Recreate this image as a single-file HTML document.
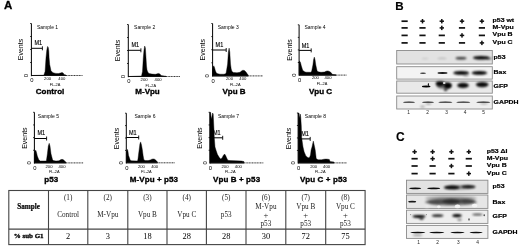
<!DOCTYPE html>
<html><head><meta charset="utf-8"><style>
html,body{margin:0;padding:0;background:#fff;width:520px;height:248px;overflow:hidden}
svg{display:block;filter:blur(0.25px)}

</style></head><body>
<svg width="520" height="248" viewBox="0 0 520 248">
<defs><filter id="b6" x="-50%" y="-100%" width="200%" height="300%"><feGaussianBlur stdDeviation="0.6"/></filter><filter id="b8" x="-50%" y="-100%" width="200%" height="300%"><feGaussianBlur stdDeviation="0.8"/></filter><filter id="b10" x="-50%" y="-100%" width="200%" height="300%"><feGaussianBlur stdDeviation="1.0"/></filter><filter id="b12" x="-50%" y="-100%" width="200%" height="300%"><feGaussianBlur stdDeviation="1.2"/></filter></defs>
<g>
<path d="M31.4,75.5 L43.8,75.2 L44.4,73.5 L45.1,71.4 L46,57.7 L46.8,50 L47.6,46.4 L48.3,47.5 L48.8,51 L49.1,57.7 L49.7,64.6 L51,70.7 L53,72.8 L56,73.4 L58.6,73.5 L60.5,73 L62,72.5 L63.2,73 L64,74.6 L66,75.1 L66,75.5 Z" fill="#000" stroke="#000" stroke-width="0.4"/>
<line x1="31.4" y1="75.5" x2="66" y2="75.5" stroke="#111" stroke-width="1.1"/>
<line x1="66" y1="75.5" x2="82.5" y2="75.5" stroke="#222" stroke-width="0.9" stroke-dasharray="1.1 0.5"/>
<line x1="31.4" y1="23.5" x2="31.4" y2="76.2" stroke="#000" stroke-width="1"/>
<line x1="30.099999999999998" y1="23.5" x2="31.4" y2="23.5" stroke="#000" stroke-width="0.8"/>
<line x1="30.099999999999998" y1="36.5" x2="31.4" y2="36.5" stroke="#000" stroke-width="0.8"/>
<line x1="30.099999999999998" y1="49.5" x2="31.4" y2="49.5" stroke="#000" stroke-width="0.8"/>
<line x1="30.099999999999998" y1="62.5" x2="31.4" y2="62.5" stroke="#000" stroke-width="0.8"/>
<line x1="31.4" y1="48.3" x2="42.4" y2="48.3" stroke="#000" stroke-width="1"/>
<line x1="42.4" y1="46.3" x2="42.4" y2="50.3" stroke="#000" stroke-width="0.9"/>
<text transform="translate(34.5 45.3) scale(0.86 1)" font-size="6.4" font-family='"Liberation Sans", sans-serif' stroke="#000" stroke-width="0.15">M1</text>
<text x="37" y="28.7" font-size="5" font-family='"Liberation Sans", sans-serif'>Sample 1</text>
<text x="23.2" y="49.5" font-size="7" font-family='"Liberation Sans", sans-serif' text-anchor="middle" transform="rotate(-90 23.2 49.5)">Events</text>
<text x="28.299999999999997" y="75.5" font-size="6" font-family='"Liberation Sans", sans-serif' text-anchor="middle" transform="rotate(-90 28.299999999999997 75.5)">0</text>
<text x="31.9" y="82.4" font-size="5.8" font-family='"Liberation Sans", sans-serif' text-anchor="middle">0</text>
<text x="47.599999999999994" y="79.8" font-size="4.2" font-family='"Liberation Sans", sans-serif' text-anchor="middle">200</text>
<text x="61.8" y="79.8" font-size="4.2" font-family='"Liberation Sans", sans-serif' text-anchor="middle">400</text>
<text x="55.0" y="85.6" font-size="3.9" font-family='"Liberation Sans", sans-serif' text-anchor="middle">FL-2A</text>
<text x="35.8" y="93.9" font-size="8" font-weight="bold" font-family='"Liberation Sans", sans-serif' stroke="#000" stroke-width="0.35" letter-spacing="0">Control</text>
<path d="M128.3,76.5 L141.5,76 L142.5,71.5 L143.3,57.7 L144,50 L144.7,46 L145.4,48 L146,57.7 L146.5,66 L147,70 L148,72.5 L149,73.4 L152,74.1 L155.3,74.3 L156.6,73.9 L158.3,73.4 L160,74 L161,75.6 L166,76.2 L166,76.5 Z" fill="#000" stroke="#000" stroke-width="0.4"/>
<line x1="128.3" y1="76.5" x2="166" y2="76.5" stroke="#111" stroke-width="1.1"/>
<line x1="166" y1="76.5" x2="180" y2="76.5" stroke="#222" stroke-width="0.9" stroke-dasharray="1.1 0.5"/>
<line x1="128.3" y1="24.5" x2="128.3" y2="77.2" stroke="#000" stroke-width="1"/>
<line x1="127.00000000000001" y1="24.5" x2="128.3" y2="24.5" stroke="#000" stroke-width="0.8"/>
<line x1="127.00000000000001" y1="37.5" x2="128.3" y2="37.5" stroke="#000" stroke-width="0.8"/>
<line x1="127.00000000000001" y1="50.5" x2="128.3" y2="50.5" stroke="#000" stroke-width="0.8"/>
<line x1="127.00000000000001" y1="63.5" x2="128.3" y2="63.5" stroke="#000" stroke-width="0.8"/>
<line x1="128.3" y1="50.3" x2="140.9" y2="50.3" stroke="#000" stroke-width="1"/>
<line x1="140.9" y1="48.3" x2="140.9" y2="52.3" stroke="#000" stroke-width="0.9"/>
<text transform="translate(131.4 46.8) scale(0.86 1)" font-size="6.4" font-family='"Liberation Sans", sans-serif' stroke="#000" stroke-width="0.15">M1</text>
<text x="134.1" y="29.0" font-size="5" font-family='"Liberation Sans", sans-serif'>Sample 2</text>
<text x="120.10000000000001" y="50.5" font-size="7" font-family='"Liberation Sans", sans-serif' text-anchor="middle" transform="rotate(-90 120.10000000000001 50.5)">Events</text>
<text x="125.20000000000002" y="76.5" font-size="6" font-family='"Liberation Sans", sans-serif' text-anchor="middle" transform="rotate(-90 125.20000000000002 76.5)">0</text>
<text x="128.8" y="83.4" font-size="5.8" font-family='"Liberation Sans", sans-serif' text-anchor="middle">0</text>
<text x="144.10000000000002" y="80.8" font-size="4.2" font-family='"Liberation Sans", sans-serif' text-anchor="middle">200</text>
<text x="158.10000000000002" y="80.8" font-size="4.2" font-family='"Liberation Sans", sans-serif' text-anchor="middle">400</text>
<text x="150.8" y="86.6" font-size="3.9" font-family='"Liberation Sans", sans-serif' text-anchor="middle">FL-2A</text>
<text x="135.3" y="94.4" font-size="8" font-weight="bold" font-family='"Liberation Sans", sans-serif' stroke="#000" stroke-width="0.35" letter-spacing="0">M-Vpu</text>
<path d="M212.6,75.9 L212.6,70 L213.2,66.5 L213.8,65.8 L214.5,67.5 L215.3,70.5 L216,72.3 L217,73.6 L220,74.2 L224,74.2 L226,73.5 L226.8,69 L227.6,64 L228.4,52 L229.1,48.1 L229.8,52 L230.5,64 L231.2,69 L232,71.6 L233.4,72.4 L237,72.8 L240,72.3 L241.5,71 L242.9,70.2 L244.5,70.6 L246,72 L247.2,73.8 L248.2,75 L248.2,75.9 Z" fill="#000" stroke="#000" stroke-width="0.4"/>
<line x1="212.6" y1="75.9" x2="248.2" y2="75.9" stroke="#111" stroke-width="1.1"/>
<line x1="248.2" y1="75.9" x2="263" y2="75.9" stroke="#222" stroke-width="0.9" stroke-dasharray="1.1 0.5"/>
<line x1="212.6" y1="23.5" x2="212.6" y2="76.60000000000001" stroke="#000" stroke-width="1"/>
<line x1="211.29999999999998" y1="23.5" x2="212.6" y2="23.5" stroke="#000" stroke-width="0.8"/>
<line x1="211.29999999999998" y1="36.6" x2="212.6" y2="36.6" stroke="#000" stroke-width="0.8"/>
<line x1="211.29999999999998" y1="49.7" x2="212.6" y2="49.7" stroke="#000" stroke-width="0.8"/>
<line x1="211.29999999999998" y1="62.800000000000004" x2="212.6" y2="62.800000000000004" stroke="#000" stroke-width="0.8"/>
<line x1="212.6" y1="50.0" x2="226.2" y2="50.0" stroke="#000" stroke-width="1"/>
<line x1="226.2" y1="48.0" x2="226.2" y2="52.0" stroke="#000" stroke-width="0.9"/>
<text transform="translate(215.6 47.3) scale(0.86 1)" font-size="6.4" font-family='"Liberation Sans", sans-serif' stroke="#000" stroke-width="0.15">M1</text>
<text x="217.7" y="29.1" font-size="5" font-family='"Liberation Sans", sans-serif'>Sample 3</text>
<text x="205.1" y="49.7" font-size="7" font-family='"Liberation Sans", sans-serif' text-anchor="middle" transform="rotate(-90 205.1 49.7)">Events</text>
<text x="209.5" y="75.9" font-size="6" font-family='"Liberation Sans", sans-serif' text-anchor="middle" transform="rotate(-90 209.5 75.9)">0</text>
<text x="213.1" y="82.80000000000001" font-size="5.8" font-family='"Liberation Sans", sans-serif' text-anchor="middle">0</text>
<text x="229.5" y="80.2" font-size="4.2" font-family='"Liberation Sans", sans-serif' text-anchor="middle">200</text>
<text x="242.79999999999998" y="80.2" font-size="4.2" font-family='"Liberation Sans", sans-serif' text-anchor="middle">400</text>
<text x="235.29999999999998" y="86.0" font-size="3.9" font-family='"Liberation Sans", sans-serif' text-anchor="middle">FL-2A</text>
<text x="222.5" y="93.7" font-size="8" font-weight="bold" font-family='"Liberation Sans", sans-serif' stroke="#000" stroke-width="0.35" letter-spacing="0">Vpu B</text>
<path d="M299.1,75.1 L299.1,61.4 L299.8,61.2 L300.5,62.5 L301.3,65.8 L302.7,70.2 L304.2,71.6 L306,72.2 L311,72.3 L311.7,71 L312.9,65 L313.6,59.5 L314.3,57.1 L315,59.5 L315.8,65 L317,70.5 L318,71.8 L321,72.3 L324.5,72 L326,71.2 L327.4,70.9 L329,71.2 L331,72.5 L332.5,74.5 L336,75 L336,75.1 Z" fill="#000" stroke="#000" stroke-width="0.4"/>
<line x1="299.1" y1="75.1" x2="336" y2="75.1" stroke="#111" stroke-width="1.1"/>
<line x1="336" y1="75.1" x2="346.5" y2="75.1" stroke="#222" stroke-width="0.9" stroke-dasharray="1.1 0.5"/>
<line x1="299.1" y1="24.8" x2="299.1" y2="75.8" stroke="#000" stroke-width="1"/>
<line x1="297.8" y1="24.8" x2="299.1" y2="24.8" stroke="#000" stroke-width="0.8"/>
<line x1="297.8" y1="37.375" x2="299.1" y2="37.375" stroke="#000" stroke-width="0.8"/>
<line x1="297.8" y1="49.95" x2="299.1" y2="49.95" stroke="#000" stroke-width="0.8"/>
<line x1="297.8" y1="62.52499999999999" x2="299.1" y2="62.52499999999999" stroke="#000" stroke-width="0.8"/>
<line x1="299.1" y1="50.4" x2="311.2" y2="50.4" stroke="#000" stroke-width="1"/>
<line x1="311.2" y1="48.4" x2="311.2" y2="52.4" stroke="#000" stroke-width="0.9"/>
<text transform="translate(301.80000000000007 47.5) scale(0.86 1)" font-size="6.4" font-family='"Liberation Sans", sans-serif' stroke="#000" stroke-width="0.15">M1</text>
<text x="304.5" y="28.6" font-size="5" font-family='"Liberation Sans", sans-serif'>Sample 4</text>
<text x="291.6" y="49.949999999999996" font-size="7" font-family='"Liberation Sans", sans-serif' text-anchor="middle" transform="rotate(-90 291.6 49.949999999999996)">Events</text>
<text x="296.0" y="75.1" font-size="6" font-family='"Liberation Sans", sans-serif' text-anchor="middle" transform="rotate(-90 296.0 75.1)">0</text>
<text x="299.6" y="82.0" font-size="5.8" font-family='"Liberation Sans", sans-serif' text-anchor="middle">0</text>
<text x="315.40000000000003" y="79.39999999999999" font-size="4.2" font-family='"Liberation Sans", sans-serif' text-anchor="middle">200</text>
<text x="328.0" y="79.39999999999999" font-size="4.2" font-family='"Liberation Sans", sans-serif' text-anchor="middle">400</text>
<text x="322.0" y="85.19999999999999" font-size="3.9" font-family='"Liberation Sans", sans-serif' text-anchor="middle">FL-2A</text>
<text x="309" y="93.7" font-size="8" font-weight="bold" font-family='"Liberation Sans", sans-serif' stroke="#000" stroke-width="0.35" letter-spacing="0">Vpu C</text>
<path d="M34.4,162.9 L34.4,153.8 L35,151 L35.8,150.2 L36.5,152.5 L37.3,156 L38.7,159.6 L40.2,161 L46.3,161 L46.8,158 L47.4,153.8 L48.3,146 L49.2,143.3 L50,146 L51,153.8 L52.5,159.6 L53.3,160.6 L56,161 L59,160.8 L60.5,159.8 L62,159.3 L63.5,159.8 L64.9,161.2 L66,162.2 L66,162.9 Z" fill="#000" stroke="#000" stroke-width="0.4"/>
<line x1="34.4" y1="162.9" x2="66" y2="162.9" stroke="#111" stroke-width="1.1"/>
<line x1="66" y1="162.9" x2="83.6" y2="162.9" stroke="#222" stroke-width="0.9" stroke-dasharray="1.1 0.5"/>
<line x1="34.4" y1="112.3" x2="34.4" y2="163.6" stroke="#000" stroke-width="1"/>
<line x1="33.1" y1="112.3" x2="34.4" y2="112.3" stroke="#000" stroke-width="0.8"/>
<line x1="33.1" y1="124.95" x2="34.4" y2="124.95" stroke="#000" stroke-width="0.8"/>
<line x1="33.1" y1="137.6" x2="34.4" y2="137.6" stroke="#000" stroke-width="0.8"/>
<line x1="33.1" y1="150.25" x2="34.4" y2="150.25" stroke="#000" stroke-width="0.8"/>
<line x1="34.4" y1="138.5" x2="46.6" y2="138.5" stroke="#000" stroke-width="1"/>
<line x1="46.6" y1="136.5" x2="46.6" y2="140.5" stroke="#000" stroke-width="0.9"/>
<text transform="translate(37.5 135.3) scale(0.86 1)" font-size="6.4" font-family='"Liberation Sans", sans-serif' stroke="#000" stroke-width="0.15">M1</text>
<text x="37.8" y="118.1" font-size="5" font-family='"Liberation Sans", sans-serif'>Sample 5</text>
<text x="27.0" y="138.1" font-size="7" font-family='"Liberation Sans", sans-serif' text-anchor="middle" transform="rotate(-90 27.0 138.1)">Events</text>
<text x="31.299999999999997" y="162.9" font-size="6" font-family='"Liberation Sans", sans-serif' text-anchor="middle" transform="rotate(-90 31.299999999999997 162.9)">0</text>
<text x="34.9" y="169.8" font-size="5.8" font-family='"Liberation Sans", sans-serif' text-anchor="middle">0</text>
<text x="49.0" y="167.9" font-size="4.2" font-family='"Liberation Sans", sans-serif' text-anchor="middle">200</text>
<text x="62.0" y="167.9" font-size="4.2" font-family='"Liberation Sans", sans-serif' text-anchor="middle">400</text>
<text x="54.2" y="173.0" font-size="3.9" font-family='"Liberation Sans", sans-serif' text-anchor="middle">FL-2A</text>
<text x="44.2" y="181.70000000000002" font-size="8" font-weight="bold" font-family='"Liberation Sans", sans-serif' stroke="#000" stroke-width="0.35" letter-spacing="0.1">p53</text>
<path d="M126.3,162.8 L126.4,152 L127,150 L127.5,149.4 L128,151.5 L128.5,155.3 L130,159.6 L131,160.8 L137.5,161 L138,159 L138.6,154 L139.2,149.4 L139.9,144 L140.6,141.9 L141.4,144.5 L142.3,149.4 L143.1,155.5 L143.8,159.6 L145,160.5 L148,160.6 L150.3,160 L151.8,159.2 L153.2,158.9 L154.7,159.3 L156.2,160.6 L157.5,162 L157.5,162.8 Z" fill="#000" stroke="#000" stroke-width="0.4"/>
<line x1="126.3" y1="162.8" x2="157.5" y2="162.8" stroke="#111" stroke-width="1.1"/>
<line x1="157.5" y1="162.8" x2="175" y2="162.8" stroke="#222" stroke-width="0.9" stroke-dasharray="1.1 0.5"/>
<line x1="126.3" y1="113.2" x2="126.3" y2="163.5" stroke="#000" stroke-width="1"/>
<line x1="125.0" y1="113.2" x2="126.3" y2="113.2" stroke="#000" stroke-width="0.8"/>
<line x1="125.0" y1="125.60000000000001" x2="126.3" y2="125.60000000000001" stroke="#000" stroke-width="0.8"/>
<line x1="125.0" y1="138.0" x2="126.3" y2="138.0" stroke="#000" stroke-width="0.8"/>
<line x1="125.0" y1="150.4" x2="126.3" y2="150.4" stroke="#000" stroke-width="0.8"/>
<line x1="126.3" y1="137.5" x2="138.7" y2="137.5" stroke="#000" stroke-width="1"/>
<line x1="138.7" y1="135.5" x2="138.7" y2="139.5" stroke="#000" stroke-width="0.9"/>
<text transform="translate(128.9 134.8) scale(0.86 1)" font-size="6.4" font-family='"Liberation Sans", sans-serif' stroke="#000" stroke-width="0.15">M1</text>
<text x="134.4" y="118.39999999999999" font-size="5" font-family='"Liberation Sans", sans-serif'>Sample 6</text>
<text x="118.7" y="138.5" font-size="7" font-family='"Liberation Sans", sans-serif' text-anchor="middle" transform="rotate(-90 118.7 138.5)">Events</text>
<text x="123.2" y="162.8" font-size="6" font-family='"Liberation Sans", sans-serif' text-anchor="middle" transform="rotate(-90 123.2 162.8)">0</text>
<text x="126.8" y="169.70000000000002" font-size="5.8" font-family='"Liberation Sans", sans-serif' text-anchor="middle">0</text>
<text x="141.4" y="167.8" font-size="4.2" font-family='"Liberation Sans", sans-serif' text-anchor="middle">200</text>
<text x="154.7" y="167.8" font-size="4.2" font-family='"Liberation Sans", sans-serif' text-anchor="middle">400</text>
<text x="146.4" y="172.9" font-size="3.9" font-family='"Liberation Sans", sans-serif' text-anchor="middle">FL-2A</text>
<text x="129.7" y="181.6" font-size="8" font-weight="bold" font-family='"Liberation Sans", sans-serif' stroke="#000" stroke-width="0.35" letter-spacing="0.1">M-Vpu + p53</text>
<path d="M209.9,162.9 L209.9,112.4 L210.6,112.4 L211.2,119 L212,116 L212.6,113 L213.2,114 L213.6,122 L214,130 L214.3,137.9 L215,146.9 L216.2,150.8 L217.5,154.6 L219.5,157.8 L220.8,159.1 L222,158 L223.3,155.5 L224.6,154 L225.6,155.5 L226.6,157.8 L227.8,160.2 L230,160.6 L236,160.8 L241.4,161 L244,161.6 L244,162.9 Z" fill="#000" stroke="#000" stroke-width="0.4"/>
<line x1="209.9" y1="162.9" x2="244" y2="162.9" stroke="#111" stroke-width="1.1"/>
<line x1="244" y1="162.9" x2="263.5" y2="162.9" stroke="#222" stroke-width="0.9" stroke-dasharray="1.1 0.5"/>
<line x1="209.9" y1="112.3" x2="209.9" y2="163.6" stroke="#000" stroke-width="1"/>
<line x1="208.6" y1="112.3" x2="209.9" y2="112.3" stroke="#000" stroke-width="0.8"/>
<line x1="208.6" y1="124.95" x2="209.9" y2="124.95" stroke="#000" stroke-width="0.8"/>
<line x1="208.6" y1="137.6" x2="209.9" y2="137.6" stroke="#000" stroke-width="0.8"/>
<line x1="208.6" y1="150.25" x2="209.9" y2="150.25" stroke="#000" stroke-width="0.8"/>
<line x1="209.9" y1="137.8" x2="222.7" y2="137.8" stroke="#000" stroke-width="1"/>
<line x1="222.7" y1="135.8" x2="222.7" y2="139.8" stroke="#000" stroke-width="0.9"/>
<text transform="translate(213.0 135.10000000000002) scale(0.86 1)" font-size="6.4" font-family='"Liberation Sans", sans-serif' stroke="#000" stroke-width="0.15">M1</text>
<text x="218" y="118.2" font-size="5" font-family='"Liberation Sans", sans-serif'>Sample 7</text>
<text x="202.3" y="138.1" font-size="7" font-family='"Liberation Sans", sans-serif' text-anchor="middle" transform="rotate(-90 202.3 138.1)">Events</text>
<text x="206.8" y="162.9" font-size="6" font-family='"Liberation Sans", sans-serif' text-anchor="middle" transform="rotate(-90 206.8 162.9)">0</text>
<text x="210.4" y="169.8" font-size="5.8" font-family='"Liberation Sans", sans-serif' text-anchor="middle">0</text>
<text x="225.0" y="167.9" font-size="4.2" font-family='"Liberation Sans", sans-serif' text-anchor="middle">200</text>
<text x="238.3" y="167.9" font-size="4.2" font-family='"Liberation Sans", sans-serif' text-anchor="middle">400</text>
<text x="230.20000000000002" y="173.0" font-size="3.9" font-family='"Liberation Sans", sans-serif' text-anchor="middle">FL-2A</text>
<text x="213.1" y="181.6" font-size="8" font-weight="bold" font-family='"Liberation Sans", sans-serif' stroke="#000" stroke-width="0.35" letter-spacing="0.1">Vpu B + p53</text>
<path d="M298.2,162.9 L298.2,113 L299,113 L299.6,118 L300.3,114 L300.8,118 L301.3,126 L301.7,137.9 L303,146.9 L304.2,152 L305.9,155.9 L308.1,157.8 L309.5,157.6 L310.5,155 L311.1,150 L312,146.9 L313.3,141.1 L314.6,146.9 L315.2,150 L315.8,155 L316.2,158.5 L318,159.8 L321.6,159.8 L324,159.2 L326,159.1 L328,159.2 L329.4,159.6 L330,161.5 L334,162 L334,162.9 Z" fill="#000" stroke="#000" stroke-width="0.4"/>
<line x1="298.2" y1="162.9" x2="334" y2="162.9" stroke="#111" stroke-width="1.1"/>
<line x1="334" y1="162.9" x2="347" y2="162.9" stroke="#222" stroke-width="0.9" stroke-dasharray="1.1 0.5"/>
<line x1="298.2" y1="113" x2="298.2" y2="163.6" stroke="#000" stroke-width="1"/>
<line x1="296.9" y1="113" x2="298.2" y2="113" stroke="#000" stroke-width="0.8"/>
<line x1="296.9" y1="125.475" x2="298.2" y2="125.475" stroke="#000" stroke-width="0.8"/>
<line x1="296.9" y1="137.95" x2="298.2" y2="137.95" stroke="#000" stroke-width="0.8"/>
<line x1="296.9" y1="150.425" x2="298.2" y2="150.425" stroke="#000" stroke-width="0.8"/>
<line x1="298.2" y1="138.9" x2="310.2" y2="138.9" stroke="#000" stroke-width="1"/>
<line x1="310.2" y1="136.9" x2="310.2" y2="140.9" stroke="#000" stroke-width="0.9"/>
<text transform="translate(301.3 136.20000000000002) scale(0.86 1)" font-size="6.4" font-family='"Liberation Sans", sans-serif' stroke="#000" stroke-width="0.15">M1</text>
<text x="304.8" y="118.2" font-size="5" font-family='"Liberation Sans", sans-serif'>Sample 8</text>
<text x="290.59999999999997" y="138.45" font-size="7" font-family='"Liberation Sans", sans-serif' text-anchor="middle" transform="rotate(-90 290.59999999999997 138.45)">Events</text>
<text x="295.09999999999997" y="162.9" font-size="6" font-family='"Liberation Sans", sans-serif' text-anchor="middle" transform="rotate(-90 295.09999999999997 162.9)">0</text>
<text x="298.7" y="169.8" font-size="5.8" font-family='"Liberation Sans", sans-serif' text-anchor="middle">0</text>
<text x="313.7" y="167.9" font-size="4.2" font-family='"Liberation Sans", sans-serif' text-anchor="middle">200</text>
<text x="326.59999999999997" y="167.9" font-size="4.2" font-family='"Liberation Sans", sans-serif' text-anchor="middle">400</text>
<text x="320.3" y="173.0" font-size="3.9" font-family='"Liberation Sans", sans-serif' text-anchor="middle">FL-2A</text>
<text x="299.9" y="181.6" font-size="8" font-weight="bold" font-family='"Liberation Sans", sans-serif' stroke="#000" stroke-width="0.35" letter-spacing="0.1">Vpu C + p53</text>
<text x="4" y="9.4" font-size="11.5" font-weight="bold" font-family='"Liberation Sans", sans-serif' stroke="#000" stroke-width="0.3">A</text>
<rect x="8.8" y="190.5" width="356.3" height="54.099999999999994" fill="none" stroke="#444" stroke-width="1.1"/>
<line x1="8.8" y1="229.1" x2="365.1" y2="229.1" stroke="#444" stroke-width="1.1"/>
<line x1="48.5" y1="190.5" x2="48.5" y2="244.6" stroke="#444" stroke-width="1.1"/>
<line x1="87.8" y1="190.5" x2="87.8" y2="244.6" stroke="#444" stroke-width="1.1"/>
<line x1="127.8" y1="190.5" x2="127.8" y2="244.6" stroke="#444" stroke-width="1.1"/>
<line x1="167" y1="190.5" x2="167" y2="244.6" stroke="#444" stroke-width="1.1"/>
<line x1="206.4" y1="190.5" x2="206.4" y2="244.6" stroke="#444" stroke-width="1.1"/>
<line x1="246" y1="190.5" x2="246" y2="244.6" stroke="#444" stroke-width="1.1"/>
<line x1="285.8" y1="190.5" x2="285.8" y2="244.6" stroke="#444" stroke-width="1.1"/>
<line x1="325.7" y1="190.5" x2="325.7" y2="244.6" stroke="#444" stroke-width="1.1"/>
<text x="28.65" y="208.6" font-size="7.2" font-weight="bold" font-family='"Liberation Serif", serif' text-anchor="middle" stroke="#000" stroke-width="0.2">Sample</text>
<text x="28.65" y="238.3" font-size="7.0" font-weight="bold" font-family='"Liberation Serif", serif' text-anchor="middle" stroke="#000" stroke-width="0.32">% sub G1</text>
<text x="68.15" y="200.4" font-size="7.2" font-family='"Liberation Serif", serif' text-anchor="middle" fill="#222">(1)</text>
<text x="68.15" y="217.0" font-size="7.2" font-family='"Liberation Serif", serif' text-anchor="middle" fill="#222">Control</text>
<text x="68.15" y="239.2" font-size="8.4" font-family='"Liberation Serif", serif' text-anchor="middle">2</text>
<text x="107.8" y="200.4" font-size="7.2" font-family='"Liberation Serif", serif' text-anchor="middle" fill="#222">(2)</text>
<text x="107.8" y="217.0" font-size="7.2" font-family='"Liberation Serif", serif' text-anchor="middle" fill="#222">M-Vpu</text>
<text x="107.8" y="239.2" font-size="8.4" font-family='"Liberation Serif", serif' text-anchor="middle">3</text>
<text x="147.4" y="200.4" font-size="7.2" font-family='"Liberation Serif", serif' text-anchor="middle" fill="#222">(3)</text>
<text x="147.4" y="217.0" font-size="7.2" font-family='"Liberation Serif", serif' text-anchor="middle" fill="#222">Vpu B</text>
<text x="147.4" y="239.2" font-size="8.4" font-family='"Liberation Serif", serif' text-anchor="middle">18</text>
<text x="186.7" y="200.4" font-size="7.2" font-family='"Liberation Serif", serif' text-anchor="middle" fill="#222">(4)</text>
<text x="186.7" y="217.0" font-size="7.2" font-family='"Liberation Serif", serif' text-anchor="middle" fill="#222">Vpu C</text>
<text x="186.7" y="239.2" font-size="8.4" font-family='"Liberation Serif", serif' text-anchor="middle">28</text>
<text x="226.2" y="200.4" font-size="7.2" font-family='"Liberation Serif", serif' text-anchor="middle" fill="#222">(5)</text>
<text x="226.2" y="217.0" font-size="7.2" font-family='"Liberation Serif", serif' text-anchor="middle" fill="#222">p53</text>
<text x="226.2" y="239.2" font-size="8.4" font-family='"Liberation Serif", serif' text-anchor="middle">28</text>
<text x="265.9" y="200.4" font-size="7.2" font-family='"Liberation Serif", serif' text-anchor="middle" fill="#222">(6)</text>
<text x="265.9" y="208.8" font-size="7.2" font-family='"Liberation Serif", serif' text-anchor="middle" fill="#222">M-Vpu</text>
<text x="265.9" y="217.6" font-size="8.6" font-family='"Liberation Serif", serif' text-anchor="middle" fill="#222">+</text>
<text x="265.9" y="226.0" font-size="7.2" font-family='"Liberation Serif", serif' text-anchor="middle" fill="#222">p53</text>
<text x="265.9" y="239.2" font-size="8.4" font-family='"Liberation Serif", serif' text-anchor="middle">30</text>
<text x="305.75" y="200.4" font-size="7.2" font-family='"Liberation Serif", serif' text-anchor="middle" fill="#222">(7)</text>
<text x="305.75" y="208.8" font-size="7.2" font-family='"Liberation Serif", serif' text-anchor="middle" fill="#222">Vpu B</text>
<text x="305.75" y="217.6" font-size="8.6" font-family='"Liberation Serif", serif' text-anchor="middle" fill="#222">+</text>
<text x="305.75" y="226.0" font-size="7.2" font-family='"Liberation Serif", serif' text-anchor="middle" fill="#222">p53</text>
<text x="305.75" y="239.2" font-size="8.4" font-family='"Liberation Serif", serif' text-anchor="middle">72</text>
<text x="345.4" y="200.4" font-size="7.2" font-family='"Liberation Serif", serif' text-anchor="middle" fill="#222">(8)</text>
<text x="345.4" y="208.8" font-size="7.2" font-family='"Liberation Serif", serif' text-anchor="middle" fill="#222">Vpu C</text>
<text x="345.4" y="217.6" font-size="8.6" font-family='"Liberation Serif", serif' text-anchor="middle" fill="#222">+</text>
<text x="345.4" y="226.0" font-size="7.2" font-family='"Liberation Serif", serif' text-anchor="middle" fill="#222">p53</text>
<text x="345.4" y="239.2" font-size="8.4" font-family='"Liberation Serif", serif' text-anchor="middle">75</text>
</g>
<g>
<text x="395.2" y="9.5" font-size="11.6" font-weight="bold" font-family='"Liberation Sans", sans-serif' stroke="#000" stroke-width="0.15">B</text>
<rect x="401.5" y="20.349999999999998" width="6.2" height="1.7" fill="#111"/>
<rect x="401.5" y="27.049999999999997" width="6.2" height="1.7" fill="#111"/>
<rect x="401.5" y="34.55" width="6.2" height="1.7" fill="#111"/>
<rect x="401.5" y="42.05" width="6.2" height="1.7" fill="#111"/>
<rect x="420.3" y="20.45" width="4.4" height="1.5" fill="#111"/>
<rect x="421.75" y="19.0" width="1.5" height="4.4" fill="#111"/>
<rect x="419.4" y="27.049999999999997" width="6.2" height="1.7" fill="#111"/>
<rect x="419.4" y="34.55" width="6.2" height="1.7" fill="#111"/>
<rect x="419.4" y="42.05" width="6.2" height="1.7" fill="#111"/>
<rect x="439.6" y="20.45" width="4.4" height="1.5" fill="#111"/>
<rect x="441.05" y="19.0" width="1.5" height="4.4" fill="#111"/>
<rect x="439.6" y="27.15" width="4.4" height="1.5" fill="#111"/>
<rect x="441.05" y="25.7" width="1.5" height="4.4" fill="#111"/>
<rect x="438.7" y="34.55" width="6.2" height="1.7" fill="#111"/>
<rect x="438.7" y="42.05" width="6.2" height="1.7" fill="#111"/>
<rect x="459.8" y="20.45" width="4.4" height="1.5" fill="#111"/>
<rect x="461.25" y="19.0" width="1.5" height="4.4" fill="#111"/>
<rect x="458.9" y="27.049999999999997" width="6.2" height="1.7" fill="#111"/>
<rect x="459.8" y="34.65" width="4.4" height="1.5" fill="#111"/>
<rect x="461.25" y="33.199999999999996" width="1.5" height="4.4" fill="#111"/>
<rect x="458.9" y="42.05" width="6.2" height="1.7" fill="#111"/>
<rect x="479.7" y="20.45" width="4.4" height="1.5" fill="#111"/>
<rect x="481.15" y="19.0" width="1.5" height="4.4" fill="#111"/>
<rect x="478.79999999999995" y="27.049999999999997" width="6.2" height="1.7" fill="#111"/>
<rect x="478.79999999999995" y="34.55" width="6.2" height="1.7" fill="#111"/>
<rect x="479.7" y="42.15" width="4.4" height="1.5" fill="#111"/>
<rect x="481.15" y="40.699999999999996" width="1.5" height="4.4" fill="#111"/>
<text transform="translate(492.6 22.0) scale(1.15 1)" font-size="6.0" font-weight="bold" font-family='"Liberation Sans", sans-serif' stroke="#000" stroke-width="0.2">p53 wt</text>
<text transform="translate(492.6 28.5) scale(1.15 1)" font-size="6.0" font-weight="bold" font-family='"Liberation Sans", sans-serif' stroke="#000" stroke-width="0.2">M-Vpu</text>
<text transform="translate(492.6 36.0) scale(1.15 1)" font-size="6.0" font-weight="bold" font-family='"Liberation Sans", sans-serif' stroke="#000" stroke-width="0.2">Vpu B</text>
<text transform="translate(492.6 43.6) scale(1.15 1)" font-size="6.0" font-weight="bold" font-family='"Liberation Sans", sans-serif' stroke="#000" stroke-width="0.2">Vpu C</text>
<rect x="396.7" y="50.5" width="95.60000000000002" height="13.5" fill="#e2e2e2" stroke="#8a8a8a" stroke-width="0.9"/>
<rect x="396.7" y="66.7" width="95.60000000000002" height="12.399999999999991" fill="#f3f3f3" stroke="#8a8a8a" stroke-width="0.9"/>
<rect x="396.7" y="81.0" width="95.60000000000002" height="12.200000000000003" fill="#e9e9e9" stroke="#8a8a8a" stroke-width="0.9"/>
<rect x="396.7" y="96.0" width="95.60000000000002" height="13.0" fill="#eeeeee" stroke="#8a8a8a" stroke-width="0.9"/>
<ellipse cx="425" cy="58.6" rx="3.5" ry="0.6" fill="#000" opacity="0.15" filter="url(#b8)"/>
<ellipse cx="442" cy="58.4" rx="4.5" ry="0.7" fill="#000" opacity="0.22" filter="url(#b8)"/>
<ellipse cx="461" cy="58.2" rx="5.5" ry="1.2" fill="#000" opacity="0.8" filter="url(#b8)"/>
<ellipse cx="481" cy="57.7" rx="8.0" ry="1.7" fill="#000" opacity="1.0" filter="url(#b8)"/>
<ellipse cx="488.5" cy="58.4" rx="3.0" ry="1.0" fill="#000" opacity="0.7" filter="url(#b8)"/>
<ellipse cx="423" cy="73.2" rx="3.0" ry="0.7" fill="#000" opacity="0.75" filter="url(#b6)"/>
<ellipse cx="442.5" cy="73.0" rx="5.0" ry="0.9" fill="#000" opacity="0.9" filter="url(#b6)"/>
<ellipse cx="461.2" cy="72.9" rx="8.0" ry="1.95" fill="#000" opacity="1.0" filter="url(#b8)"/>
<ellipse cx="479.4" cy="72.9" rx="7.75" ry="1.95" fill="#000" opacity="1.0" filter="url(#b8)"/>
<ellipse cx="466" cy="75.6" rx="3.0" ry="1.0" fill="#000" opacity="0.35" filter="url(#b8)"/>
<ellipse cx="426.2" cy="86.5" rx="4.25" ry="0.9" fill="#000" opacity="1.0" filter="url(#b6)"/>
<ellipse cx="428.4" cy="84.6" rx="0.6" ry="1.5" fill="#000" opacity="0.9" filter="url(#b6)"/>
<ellipse cx="444" cy="85.6" rx="7.5" ry="3.25" fill="#000" opacity="0.55" filter="url(#b10)"/>
<ellipse cx="440" cy="83.6" rx="4.25" ry="2.3" fill="#000" opacity="1.0" filter="url(#b8)"/>
<ellipse cx="447.8" cy="85.6" rx="3.75" ry="2.8" fill="#000" opacity="1.0" filter="url(#b8)"/>
<ellipse cx="444.2" cy="83.0" rx="1.3" ry="1.0" fill="#e4e4e4" opacity="1.0" filter="url(#b6)"/>
<ellipse cx="445.6" cy="89.8" rx="1.75" ry="1.3" fill="#000" opacity="0.9" filter="url(#b8)"/>
<ellipse cx="463.0" cy="85.4" rx="5.75" ry="2.7" fill="#000" opacity="0.95" filter="url(#b8)"/>
<ellipse cx="482.2" cy="84.6" rx="6.25" ry="2.7" fill="#000" opacity="0.95" filter="url(#b8)"/>
<ellipse cx="409.0" cy="102.2" rx="6.0" ry="0.65" fill="#000" opacity="0.85" filter="url(#b6)"/>
<ellipse cx="428.0" cy="102.2" rx="6.0" ry="0.65" fill="#000" opacity="0.85" filter="url(#b6)"/>
<ellipse cx="445.4" cy="102.2" rx="7.0" ry="0.65" fill="#000" opacity="0.85" filter="url(#b6)"/>
<ellipse cx="463.3" cy="102.2" rx="7.0" ry="0.65" fill="#000" opacity="0.85" filter="url(#b6)"/>
<ellipse cx="483.3" cy="102.2" rx="7.0" ry="0.65" fill="#000" opacity="0.85" filter="url(#b6)"/>
<ellipse cx="428.5" cy="103.8" rx="3.0" ry="0.6" fill="#000" opacity="0.5" filter="url(#b8)"/>
<ellipse cx="422.5" cy="106.6" rx="2.5" ry="0.6" fill="#000" opacity="0.5" filter="url(#b8)"/>
<ellipse cx="484" cy="103.6" rx="4.0" ry="0.6" fill="#000" opacity="0.4" filter="url(#b8)"/>
<text transform="translate(493.6 58.7) scale(1.15 1)" font-size="6.0" font-weight="bold" font-family='"Liberation Sans", sans-serif' stroke="#000" stroke-width="0.2">p53</text>
<text transform="translate(493.6 73.6) scale(1.15 1)" font-size="6.0" font-weight="bold" font-family='"Liberation Sans", sans-serif' stroke="#000" stroke-width="0.2">Bax</text>
<text transform="translate(493.6 87.9) scale(1.15 1)" font-size="6.0" font-weight="bold" font-family='"Liberation Sans", sans-serif' stroke="#000" stroke-width="0.2">GFP</text>
<text transform="translate(493.6 104.3) scale(1.15 1)" font-size="6.0" font-weight="bold" font-family='"Liberation Sans", sans-serif' stroke="#000" stroke-width="0.2">GAPDH</text>
<text x="408.6" y="114.4" font-size="4.8" font-weight="normal" fill="#222" font-family='"Liberation Sans", sans-serif' text-anchor="middle">1</text>
<text x="427.6" y="114.4" font-size="4.8" font-weight="normal" fill="#222" font-family='"Liberation Sans", sans-serif' text-anchor="middle">2</text>
<text x="446.5" y="114.4" font-size="4.8" font-weight="normal" fill="#222" font-family='"Liberation Sans", sans-serif' text-anchor="middle">3</text>
<text x="465.2" y="114.4" font-size="4.8" font-weight="normal" fill="#222" font-family='"Liberation Sans", sans-serif' text-anchor="middle">4</text>
<text x="483.5" y="114.4" font-size="4.8" font-weight="normal" fill="#222" font-family='"Liberation Sans", sans-serif' text-anchor="middle">5</text>
<text x="395.9" y="140.9" font-size="12" font-weight="bold" font-family='"Liberation Sans", sans-serif' stroke="#000" stroke-width="0.1">C</text>
<rect x="412.40000000000003" y="151.05" width="4.4" height="1.5" fill="#111"/>
<rect x="413.85" y="149.60000000000002" width="1.5" height="4.4" fill="#111"/>
<rect x="411.5" y="157.85" width="6.2" height="1.7" fill="#111"/>
<rect x="411.5" y="165.15" width="6.2" height="1.7" fill="#111"/>
<rect x="411.5" y="172.75" width="6.2" height="1.7" fill="#111"/>
<rect x="430.40000000000003" y="151.05" width="4.4" height="1.5" fill="#111"/>
<rect x="431.85" y="149.60000000000002" width="1.5" height="4.4" fill="#111"/>
<rect x="430.40000000000003" y="157.95" width="4.4" height="1.5" fill="#111"/>
<rect x="431.85" y="156.5" width="1.5" height="4.4" fill="#111"/>
<rect x="429.5" y="165.15" width="6.2" height="1.7" fill="#111"/>
<rect x="429.5" y="172.75" width="6.2" height="1.7" fill="#111"/>
<rect x="449.2" y="151.05" width="4.4" height="1.5" fill="#111"/>
<rect x="450.65" y="149.60000000000002" width="1.5" height="4.4" fill="#111"/>
<rect x="448.29999999999995" y="157.85" width="6.2" height="1.7" fill="#111"/>
<rect x="449.2" y="165.25" width="4.4" height="1.5" fill="#111"/>
<rect x="450.65" y="163.8" width="1.5" height="4.4" fill="#111"/>
<rect x="448.29999999999995" y="172.75" width="6.2" height="1.7" fill="#111"/>
<rect x="466.6" y="151.05" width="4.4" height="1.5" fill="#111"/>
<rect x="468.05" y="149.60000000000002" width="1.5" height="4.4" fill="#111"/>
<rect x="465.7" y="157.85" width="6.2" height="1.7" fill="#111"/>
<rect x="465.7" y="165.15" width="6.2" height="1.7" fill="#111"/>
<rect x="466.6" y="172.85" width="4.4" height="1.5" fill="#111"/>
<rect x="468.05" y="171.4" width="1.5" height="4.4" fill="#111"/>
<text transform="translate(486.8 152.5) scale(1.15 1)" font-size="6.0" font-weight="bold" font-family='"Liberation Sans", sans-serif' stroke="#000" stroke-width="0.2">p53 &#916;I</text>
<text transform="translate(486.8 159.8) scale(1.15 1)" font-size="6.0" font-weight="bold" font-family='"Liberation Sans", sans-serif' stroke="#000" stroke-width="0.2">M-Vpu</text>
<text transform="translate(486.8 167.3) scale(1.15 1)" font-size="6.0" font-weight="bold" font-family='"Liberation Sans", sans-serif' stroke="#000" stroke-width="0.2">Vpu B</text>
<text transform="translate(486.8 174.5) scale(1.15 1)" font-size="6.0" font-weight="bold" font-family='"Liberation Sans", sans-serif' stroke="#000" stroke-width="0.2">Vpu C</text>
<rect x="406.5" y="180.2" width="81.39999999999998" height="13.200000000000017" fill="#e2e2e2" stroke="#8a8a8a" stroke-width="0.9"/>
<rect x="406.5" y="195.0" width="81.39999999999998" height="13.400000000000006" fill="#e6e6e6" stroke="#8a8a8a" stroke-width="0.9"/>
<rect x="406.5" y="210.2" width="81.39999999999998" height="13.200000000000017" fill="#eeeeee" stroke="#8a8a8a" stroke-width="0.9"/>
<rect x="406.5" y="225.4" width="81.39999999999998" height="13.0" fill="#f0f0f0" stroke="#8a8a8a" stroke-width="0.9"/>
<ellipse cx="415.2" cy="188.4" rx="6.0" ry="0.8" fill="#000" opacity="0.95" filter="url(#b6)"/>
<ellipse cx="433.7" cy="188.4" rx="6.5" ry="0.8" fill="#000" opacity="0.95" filter="url(#b6)"/>
<ellipse cx="451.8" cy="187.4" rx="8.0" ry="1.8" fill="#000" opacity="0.95" filter="url(#b8)"/>
<ellipse cx="468.4" cy="186.8" rx="7.25" ry="1.5" fill="#000" opacity="0.95" filter="url(#b8)"/>
<ellipse cx="460" cy="187.2" rx="15.0" ry="2.2" fill="#000" opacity="0.35" filter="url(#b10)"/>
<ellipse cx="412.2" cy="201.7" rx="4.0" ry="0.85" fill="#000" opacity="0.9" filter="url(#b6)"/>
<ellipse cx="451" cy="198.2" rx="26.0" ry="2.0" fill="#000" opacity="0.3" filter="url(#b12)"/>
<ellipse cx="451" cy="202.0" rx="26.0" ry="3.5" fill="#000" opacity="0.5" filter="url(#b12)"/>
<ellipse cx="436" cy="202.0" rx="8.0" ry="2.1" fill="#000" opacity="0.35" filter="url(#b10)"/>
<ellipse cx="451.5" cy="201.6" rx="9.5" ry="2.3" fill="#000" opacity="0.6" filter="url(#b10)"/>
<ellipse cx="467.5" cy="201.2" rx="7.5" ry="2.1" fill="#000" opacity="0.45" filter="url(#b10)"/>
<ellipse cx="457.5" cy="206.4" rx="2.75" ry="1.9" fill="#f4f4f4" opacity="1.0" filter="url(#b6)"/>
<ellipse cx="474.6" cy="205.6" rx="2.75" ry="1.9" fill="#f4f4f4" opacity="1.0" filter="url(#b6)"/>
<ellipse cx="438.8" cy="206.8" rx="1.75" ry="1.4" fill="#f4f4f4" opacity="1.0" filter="url(#b6)"/>
<ellipse cx="427" cy="206.5" rx="2.0" ry="1.25" fill="#f0f0f0" opacity="0.8" filter="url(#b8)"/>
<ellipse cx="419.0" cy="216.4" rx="6.5" ry="1.5" fill="#000" opacity="1.0" filter="url(#b8)"/>
<ellipse cx="421.5" cy="218.6" rx="2.25" ry="1.1" fill="#000" opacity="0.9" filter="url(#b8)"/>
<ellipse cx="437.6" cy="215.6" rx="6.0" ry="1.2" fill="#000" opacity="1.0" filter="url(#b8)"/>
<ellipse cx="457.0" cy="215.6" rx="4.75" ry="1.6" fill="#000" opacity="1.0" filter="url(#b8)"/>
<ellipse cx="459.5" cy="219.8" rx="2.25" ry="0.8" fill="#000" opacity="0.7" filter="url(#b8)"/>
<ellipse cx="469.0" cy="219.4" rx="0.8" ry="1.2" fill="#000" opacity="0.6" filter="url(#b6)"/>
<ellipse cx="477.4" cy="214.6" rx="5.25" ry="0.75" fill="#000" opacity="0.9" filter="url(#b8)"/>
<ellipse cx="484.2" cy="215.2" rx="0.65" ry="1.0" fill="#000" opacity="0.8" filter="url(#b6)"/>
<ellipse cx="410.6" cy="214.6" rx="0.6" ry="0.6" fill="#000" opacity="0.4" filter="url(#b6)"/>
<ellipse cx="426.4" cy="214.6" rx="0.6" ry="0.6" fill="#000" opacity="0.4" filter="url(#b6)"/>
<ellipse cx="417.8" cy="232.5" rx="7.5" ry="0.85" fill="#000" opacity="0.95" filter="url(#b6)"/>
<ellipse cx="436.8" cy="232.5" rx="7.5" ry="0.85" fill="#000" opacity="0.95" filter="url(#b6)"/>
<ellipse cx="457.5" cy="232.5" rx="7.0" ry="0.85" fill="#000" opacity="0.95" filter="url(#b6)"/>
<ellipse cx="476.1" cy="232.5" rx="6.5" ry="0.85" fill="#000" opacity="0.95" filter="url(#b6)"/>
<ellipse cx="417.5" cy="235.3" rx="5.0" ry="0.8" fill="#000" opacity="0.45" filter="url(#b8)"/>
<text transform="translate(492.6 187.8) scale(1.15 1)" font-size="6.0" font-weight="bold" font-family='"Liberation Sans", sans-serif' stroke="#000" stroke-width="0.2">p53</text>
<text transform="translate(492.6 203.8) scale(1.15 1)" font-size="6.0" font-weight="bold" font-family='"Liberation Sans", sans-serif' stroke="#000" stroke-width="0.2">Bax</text>
<text transform="translate(492.6 218.3) scale(1.15 1)" font-size="6.0" font-weight="bold" font-family='"Liberation Sans", sans-serif' stroke="#000" stroke-width="0.2">GFP</text>
<text transform="translate(492.6 234.0) scale(1.15 1)" font-size="6.0" font-weight="bold" font-family='"Liberation Sans", sans-serif' stroke="#000" stroke-width="0.2">GAPDH</text>
<text x="418.6" y="244.4" font-size="4.8" font-weight="normal" fill="#222" font-family='"Liberation Sans", sans-serif' text-anchor="middle">1</text>
<text x="437.6" y="244.4" font-size="4.8" font-weight="normal" fill="#222" font-family='"Liberation Sans", sans-serif' text-anchor="middle">2</text>
<text x="458.3" y="244.4" font-size="4.8" font-weight="normal" fill="#222" font-family='"Liberation Sans", sans-serif' text-anchor="middle">3</text>
<text x="477.6" y="244.4" font-size="4.8" font-weight="normal" fill="#222" font-family='"Liberation Sans", sans-serif' text-anchor="middle">4</text>
</g>
</svg>
</body></html>
